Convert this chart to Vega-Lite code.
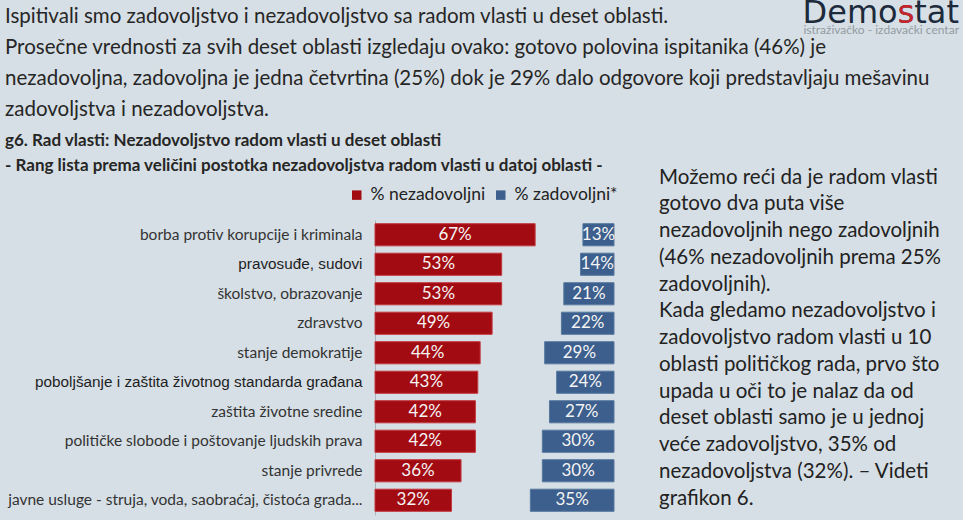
{
  "$schema": "https://vega.github.io/schema/vega-lite/v6.json",
  "autosize": {"type": "none"},
  "padding": {"left": 375, "top": 220, "right": 588, "bottom": 300},
  "background": "#d6dfe5",
  "bounds": "flush",
  "spacing": 45,
  "config": {"view": {"stroke": null}, "font": "Lato"},
  "hconcat": [
    {
      "width": 239,
      "height": 295,
      "data": {"values": [
        {"oblast": "borba protiv korupcije i kriminala", "tip": "% nezadovoljni", "udeo": 0.67},
        {"oblast": "borba protiv korupcije i kriminala", "tip": "% zadovoljni*", "udeo": 0.13},
        {"oblast": "pravosuđe, sudovi", "tip": "% nezadovoljni", "udeo": 0.53},
        {"oblast": "pravosuđe, sudovi", "tip": "% zadovoljni*", "udeo": 0.14},
        {"oblast": "školstvo, obrazovanje", "tip": "% nezadovoljni", "udeo": 0.53},
        {"oblast": "školstvo, obrazovanje", "tip": "% zadovoljni*", "udeo": 0.21},
        {"oblast": "zdravstvo", "tip": "% nezadovoljni", "udeo": 0.49},
        {"oblast": "zdravstvo", "tip": "% zadovoljni*", "udeo": 0.22},
        {"oblast": "stanje demokratije", "tip": "% nezadovoljni", "udeo": 0.44},
        {"oblast": "stanje demokratije", "tip": "% zadovoljni*", "udeo": 0.29},
        {"oblast": "poboljšanje i zaštita životnog standarda građana", "tip": "% nezadovoljni", "udeo": 0.43},
        {"oblast": "poboljšanje i zaštita životnog standarda građana", "tip": "% zadovoljni*", "udeo": 0.24},
        {"oblast": "zaštita životne sredine", "tip": "% nezadovoljni", "udeo": 0.42},
        {"oblast": "zaštita životne sredine", "tip": "% zadovoljni*", "udeo": 0.27},
        {"oblast": "političke slobode i poštovanje ljudskih prava", "tip": "% nezadovoljni", "udeo": 0.42},
        {"oblast": "političke slobode i poštovanje ljudskih prava", "tip": "% zadovoljni*", "udeo": 0.30},
        {"oblast": "stanje privrede", "tip": "% nezadovoljni", "udeo": 0.36},
        {"oblast": "stanje privrede", "tip": "% zadovoljni*", "udeo": 0.30},
        {"oblast": "javne usluge - struja, voda, saobraćaj, čistoća grada...", "tip": "% nezadovoljni", "udeo": 0.32},
        {"oblast": "javne usluge - struja, voda, saobraćaj, čistoća grada...", "tip": "% zadovoljni*", "udeo": 0.35}
      ]},
      "title": {
        "text": [
          "Ispitivali smo zadovoljstvo i nezadovoljstvo sa radom vlasti u deset oblasti.",
          "Prosečne vrednosti za svih deset oblasti izgledaju ovako: gotovo polovina ispitanika (46%) je",
          "nezadovoljna, zadovoljna je jedna četvrtina (25%) dok je 29% dalo odgovore koji predstavljaju mešavinu",
          "zadovoljstva i nezadovoljstva."
        ],
        "subtitle": [
          "g6. Rad vlasti: Nezadovoljstvo  radom vlasti u deset oblasti",
          "- Rang lista prema veličini postotka nezadovoljstva  radom vlasti u datoj oblasti -"
        ],
        "anchor": "start",
        "frame": "bounds",
        "orient": "top",
        "offset": 46,
        "font": "Lato",
        "fontSize": 20.5,
        "fontWeight": "normal",
        "color": "#262626",
        "lineHeight": 31,
        "subtitleFont": "Lato",
        "subtitleFontSize": 17,
        "subtitleFontWeight": "bold",
        "subtitleColor": "#262626",
        "subtitleLineHeight": 25,
        "subtitlePadding": 13
      },
      "encoding": {
        "y": {
          "field": "oblast",
          "type": "nominal",
          "sort": null,
          "scale": {"paddingInner": 0.25, "paddingOuter": 0.125},
          "axis": {
            "title": null,
            "ticks": false,
            "labelFont": {
              "condition": {"test": "datum.value === 'pravosuđe, sudovi' || datum.value === 'poboljšanje i zaštita životnog standarda građana'", "value": "Liberation Sans"},
              "value": "Lato"
            },
            "labelFontSize": {
              "condition": {"test": "datum.value === 'pravosuđe, sudovi' || datum.value === 'poboljšanje i zaštita životnog standarda građana'", "value": 15.3},
              "value": 15.5
            },
            "labelColor": {
              "condition": {"test": "datum.value === 'pravosuđe, sudovi' || datum.value === 'poboljšanje i zaštita životnog standarda građana'", "value": "#1e1e1e"},
              "value": "#333333"
            },
            "labelLimit": 400,
            "labelPadding": 13,
            "domain": true,
            "domainColor": "#a9b3bb",
            "domainWidth": 1,
            "grid": false,
            "minExtent": 370,
            "maxExtent": 370
          }
        }
      },
      "layer": [
        {
          "transform": [{"filter": "datum.tip === '% nezadovoljni'"}],
          "mark": {"type": "bar", "stroke": "#c2373d", "strokeWidth": 1},
          "encoding": {
            "x": {"field": "udeo", "type": "quantitative", "scale": {"domain": [0, 1]}, "axis": null},
            "color": {
              "field": "tip",
              "type": "nominal",
              "scale": {"domain": ["% nezadovoljni", "% zadovoljni*"], "range": ["#a30b12", "#3c5f8d"]},
              "legend": {
                "title": null,
                "orient": "none",
                "legendX": -27,
                "legendY": -34,
                "direction": "horizontal",
                "symbolType": "square",
                "symbolSize": 90,
                "symbolStrokeWidth": 0,
                "labelFont": "Lato",
                "labelFontSize": 17.5,
                "labelColor": "#222222",
                "labelOffset": 5,
                "columnPadding": 6
              }
            }
          }
        },
        {
          "transform": [{"filter": "datum.tip === '% nezadovoljni'"}],
          "mark": {"type": "text", "color": "#f4f4f4", "font": "Lato", "fontSize": 17, "align": "center", "baseline": "middle"},
          "encoding": {
            "x": {"field": "udeo", "type": "quantitative", "scale": {"domain": [0, 2]}, "axis": null},
            "text": {"field": "udeo", "type": "quantitative", "format": ".0%"}
          }
        },
        {
          "transform": [{"filter": "datum.tip === '% zadovoljni*'"}],
          "mark": {"type": "bar", "stroke": "#56789f", "strokeWidth": 1},
          "encoding": {
            "x": {"field": "udeo", "type": "quantitative", "scale": {"domain": [0, 1], "reverse": true}, "axis": null},
            "color": {"field": "tip", "type": "nominal"}
          }
        },
        {
          "transform": [{"filter": "datum.tip === '% zadovoljni*'"}],
          "mark": {"type": "text", "color": "#f4f4f4", "font": "Lato", "fontSize": 17, "align": "center", "baseline": "middle"},
          "encoding": {
            "x": {"field": "udeo", "type": "quantitative", "scale": {"domain": [0, 2], "reverse": true}, "axis": null},
            "text": {"field": "udeo", "type": "quantitative", "format": ".0%"}
          }
        }
      ],
      "resolve": {"scale": {"x": "independent"}}
    },
    {
      "width": 254,
      "height": 1,
      "data": {"values": [{}]},
      "mark": {"type": "text", "text": ""},
      "encoding": {},
      "title": {
        "text": [
          "Možemo reći da je radom vlasti",
          "gotovo dva puta više",
          "nezadovoljnih nego zadovoljnih",
          "(46% nezadovoljnih prema 25%",
          "zadovoljnih).",
          "Kada gledamo nezadovoljstvo i",
          "zadovoljstvo radom vlasti u 10",
          "oblasti političkog rada, prvo što",
          "upada u oči to je nalaz da od",
          "deset oblasti samo je u jednoj",
          "veće zadovoljstvo, 35% od",
          "nezadovoljstva (32%). – Videti",
          "grafikon 6."
        ],
        "orient": "bottom",
        "anchor": "start",
        "frame": "group",
        "baseline": "top",
        "offset": -58,
        "font": "Lato",
        "fontSize": 20.5,
        "fontWeight": "normal",
        "lineHeight": 26.75,
        "color": "#222222"
      }
    },
    {
      "width": 1,
      "height": 1,
      "data": {"values": [{}]},
      "mark": {"type": "text", "text": ""},
      "encoding": {},
      "title": {
        "text": "Demostat",
        "subtitle": "istraživačko - izdavački centar",
        "orient": "top",
        "anchor": "end",
        "frame": "group",
        "offset": 178,
        "font": "DejaVu Sans",
        "fontSize": 32,
        "fontWeight": "normal",
        "color": "#1d2a3b",
        "subtitleFont": "Lato",
        "subtitleFontSize": 12,
        "subtitleColor": "#939ba2",
        "subtitlePadding": -5
      }
    },
    {
      "width": 1,
      "height": 1,
      "data": {"values": [{}]},
      "mark": {"type": "text", "text": ""},
      "encoding": {},
      "title": {
        "text": "s",
        "subtitle": "istraživačko - izdavački centar",
        "orient": "top",
        "anchor": "end",
        "frame": "group",
        "offset": 178,
        "dx": -90.7,
        "font": "DejaVu Sans",
        "fontSize": 32,
        "fontWeight": "normal",
        "color": "#c8262c",
        "subtitleFont": "Lato",
        "subtitleFontSize": 12,
        "subtitleColor": "rgba(0,0,0,0)",
        "subtitlePadding": -5
      }
    }
  ]
}
